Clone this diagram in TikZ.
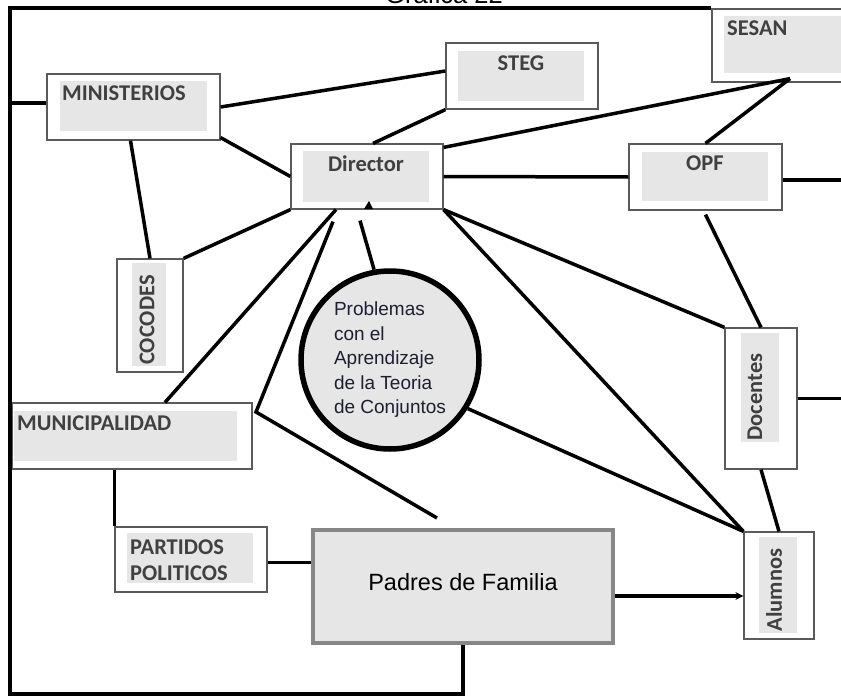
\documentclass[tikz,border=0pt]{standalone}
\usepackage{fontspec}
\setmainfont{Liberation Sans}
\newfontfamily\boxfont{Carlito}
\usetikzlibrary{arrows.meta}
\definecolor{boxedge}{RGB}{90,90,90}
\definecolor{boxfill}{RGB}{230,230,230}
\definecolor{lblgray}{RGB}{64,64,64}
\definecolor{padedge}{RGB}{135,135,135}
\definecolor{probtext}{RGB}{30,30,50}
\tikzstyle{org}=[shape=rectangle,draw=boxedge,line width=1.2pt,fill=white,inner sep=0pt]
\tikzstyle{inbox}=[fill=boxfill]
\tikzstyle{lbl}=[font=\boxfont\bfseries\fontsize{22.5}{26}\selectfont,text=lblgray,inner sep=0pt]
\tikzstyle{common}=[line width=3.5pt]
\tikzstyle{toarrow}=[-{Stealth[length=8pt,width=8pt]},line width=3.5pt]

\begin{document}
\begin{tikzpicture}[x=1pt,y=-1pt]
        \useasboundingbox (0,0) rectangle (841,696);
        \node[font=\fontsize{25.5}{30}\selectfont,anchor=base,inner sep=0pt] (title) at (444,3) {Gráfica 22};

        % boxes
        \node[org,minimum width=173pt,minimum height=66pt] (MIN) at (133.5,107) {};
        \fill[inbox] (60,81) rectangle (207,131);
        \node[lbl,anchor=west] (MINt) at (62,93) {MINISTERIOS};

        \node[org,minimum width=152pt,minimum height=66pt] (STEG) at (522,76) {};
        \fill[inbox] (458,51) rectangle (584,101);
        \node[lbl] (STEGt) at (521,63) {STEG};

        \node[org,minimum width=138pt,minimum height=73pt] (SES) at (781,45.5) {};
        \fill[inbox] (724,16) rectangle (850,73);
        \node[lbl,anchor=west] (SESt) at (727,28) {SESAN};

        \node[org,minimum width=152pt,minimum height=65pt] (DIR) at (367,176.5) {};
        \fill[inbox] (303,151) rectangle (429,202);
        \node[lbl] (DIRt) at (366,164) {Director};

        \node[org,minimum width=153pt,minimum height=66pt] (OPF) at (705.5,177) {};
        \fill[inbox] (642,152) rectangle (768,201);
        \node[lbl] (OPFt) at (705,163) {OPF};

        \node[org,minimum width=66pt,minimum height=113pt] (COC) at (150,315.5) {};
        \fill[inbox] (132,263) rectangle (166,366);
        \node[lbl,rotate=90] (COCt) at (147,320) {COCODES};

        \node[org,minimum width=240pt,minimum height=66pt] (MUN) at (132,436) {};
        \fill[inbox] (14,411) rectangle (237,461);
        \node[lbl,anchor=west] (MUNt) at (17,423) {MUNICIPALIDAD};

        \node[org,minimum width=152pt,minimum height=65pt] (PAR) at (191,559.5) {};
        \fill[inbox] (127,533) rectangle (253,583);
        \node[lbl,anchor=west,align=left] (PARt) at (130,560) {PARTIDOS\\POLITICOS};

        \node[org,draw=padedge,line width=4pt,fill=boxfill,minimum width=300pt,minimum height=113pt,
            text depth=10pt,font=\fontsize{23.5}{28}\selectfont] (PAD) at (463,586.5) {Padres de Familia};

        \node[org,minimum width=72pt,minimum height=141pt] (DOC) at (761,398.5) {};
        \fill[inbox] (741,333) rectangle (779,442);
        \node[lbl,rotate=90] (DOCt) at (755,397) {Docentes};

        \node[org,minimum width=70pt,minimum height=107pt] (ALU) at (779,585.5) {};
        \fill[inbox] (759,537) rectangle (797,633);
        \node[lbl,rotate=90] (ALUt) at (774,590) {Alumnos};

        \node[circle,draw=black,line width=5.5pt,fill=boxfill,minimum size=178pt,inner sep=0pt,
            align=left,text=probtext,font=\fontsize{19}{24.5}\selectfont] (PROB) at (390,360)
            {Problemas\\con el\\Aprendizaje\\de la Teoria\\de Conjuntos};

        % frame and free ends
        \coordinate (fTL) at (10,8);
        \coordinate (fBL) at (10,694);
        \coordinate (eR) at (845,0);
        \coordinate (minL) at ([yshift=4pt]MIN.west);
        \coordinate (stegL) at ([yshift=5pt]STEG.west);
        \coordinate (sesB) at ([xshift=9pt,yshift=4pt]SES.south);
        \coordinate (opfR) at ([yshift=-3pt]OPF.east);
        \coordinate (parR) at ([yshift=-3pt]PAR.east);
        \coordinate (padR) at ([yshift=-9.5pt]PAD.east);
        \coordinate (kink) at (256,412);
        \draw[common] (PAD.south) -- (PAD.south |- fBL) -- (fBL) -- (fTL) -- (fTL -| SES.west);

        % connectors
        \draw[common] (minL) -- (minL -| fTL);
        \draw[common] (MIN.east) -- (stegL);
        \draw[common] ([yshift=3pt]MIN.south east) -- (DIR.west);
        \draw[common] ([xshift=-3pt]MIN.south) -- (COC.north);
        \draw[common] (STEG.south west) -- ([xshift=6pt]DIR.north);
        \draw[common] ([yshift=-4pt]DIR.north east) -- (sesB);
        \draw[common] (sesB) -- (OPF.north);
        \draw[common] (DIR.east) -- (OPF.west);
        \draw[common] (opfR) -- (opfR -| eR);
        \draw[common] (DIR.south west) -- (COC.north east);
        \draw[common] ([xshift=-31pt]DIR.south) -- ([xshift=33pt]MUN.north);
        \draw[common] ([xshift=-34pt,yshift=-12pt]DIR.south) -- (kink) -- ([xshift=-26pt,yshift=10pt]PAD.north);
        \draw[common] (PROB.100) -- ([xshift=-7pt,yshift=-11pt]DIR.south);
        \fill (364,209) -- (369,201) -- (373,209) -- cycle;
        \draw[common] (DIR.south east) -- (DOC.north west);
        \draw[common] (DIR.south east) -- (ALU.north west);
        \draw[common] (PROB.-32) -- (ALU.north west);
        \draw[common] ([yshift=-4pt]OPF.south) -- (DOC.north);
        \draw[common] (DOC.east) -- (DOC.east -| eR);
        \draw[common] (DOC.south) -- (ALU.north);
        \draw[common] (PAR.north west) -- (PAR.north west |- MUN.south);
        \draw[common] (parR) -- (parR -| PAD.west);
        \draw[toarrow] (padR) -- (padR -| ALU.west);
\end{tikzpicture}
\end{document}
